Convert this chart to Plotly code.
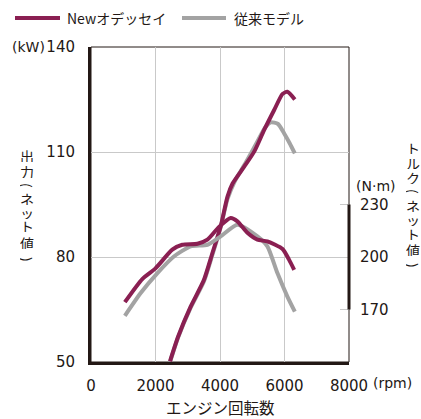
import plotly.graph_objects as go

# ---- data ----
new_power_rpm = [2450, 2700, 3090, 3500, 3760, 4020, 4230, 4390, 4750, 5060, 5370, 5680, 5940, 6090, 6320]
new_power_kw = [50.2, 57.2, 65.8, 73.4, 81, 88.7, 97.2, 101, 105.8, 110.1, 116.3, 122, 126.6, 127.2, 125]

old_power_rpm = [2450, 2700, 3090, 3500, 3760, 4020, 4230, 4450, 4800, 5160, 5400, 5575, 5800, 5990, 6160, 6320]
old_power_kw = [50, 57, 65.5, 73, 80.5, 88.5, 96.5, 101.5, 107, 113, 117, 118.5, 118, 115.3, 112.5, 109.6]

new_torque_rpm = [1050, 1590, 2000, 2520, 2830, 3300, 3610, 3970, 4330, 4540, 4850, 5160, 5470, 5940, 6140, 6300]
new_torque_nm = [174.2, 187.4, 193.5, 204.2, 207, 207.6, 209.9, 217.2, 222.3, 220.4, 213.8, 209.9, 208.9, 204.6, 198.5, 192.7]

old_torque_rpm = [1050, 1540, 2060, 2570, 3090, 3610, 4020, 4540, 5160, 5470, 5780, 6090, 6320]
old_torque_nm = [166.4, 179.4, 190.8, 200.3, 206.1, 207, 211.8, 218.5, 211.8, 206.1, 190.8, 177.4, 168.8]

x_ticks = [0, 2000, 4000, 6000, 8000]
x_ticklabels = ["0", "2000", "4000", "6000", "8000"]
power_ticks = [50, 80, 110, 140]
torque_ticks = [170, 200, 230]

series_names = ["Newオデッセイ", "従来モデル"]
left_title = ["出", "力", "(", "ネ", "ッ", "ト", "値", ")"]
right_title = ["ト", "ル", "ク", "(", "ネ", "ッ", "ト", "値", ")"]

MAROON = "#8a1f52"
GRAY = "#a3a3a3"
INK = "#231815"
GRID = "#c9c9c9"
JP = "Noto Sans CJK JP"
NUM = "DejaVu Sans, Noto Sans CJK JP"

W, H = 421, 419
L, R, T, B = 91, 72, 47, 57
PW, PH = W - L - R, H - T - B


def px(xp):
    return (xp - L) / PW


def py(yp):
    return (H - B - yp) / PH


fig = go.Figure()
line_shape = dict(shape="spline", smoothing=0.6)

fig.add_trace(go.Scatter(x=old_torque_rpm, y=old_torque_nm, yaxis="y2", mode="lines",
                         line=dict(color=GRAY, width=4, **line_shape), name=series_names[1], showlegend=False))
fig.add_trace(go.Scatter(x=old_power_rpm, y=old_power_kw, mode="lines",
                         line=dict(color=GRAY, width=4, **line_shape), name=series_names[1], showlegend=False))
fig.add_trace(go.Scatter(x=new_torque_rpm, y=new_torque_nm, yaxis="y2", mode="lines",
                         line=dict(color=MAROON, width=4, **line_shape), name=series_names[0], showlegend=False))
fig.add_trace(go.Scatter(x=new_power_rpm, y=new_power_kw, mode="lines",
                         line=dict(color=MAROON, width=4, **line_shape), name=series_names[0], showlegend=False))

shapes = [
    dict(type="rect", xref="paper", yref="paper", x0=0, x1=1, y0=0, y1=1,
         line=dict(color=INK, width=1), layer="below"),
    dict(type="line", xref="paper", yref="y2", x0=1, x1=1, y0=170, y1=230,
         line=dict(color=INK, width=3)),
    dict(type="line", xref="paper", yref="paper", x0=px(15), x1=px(60), y0=py(18), y1=py(18),
         line=dict(color=MAROON, width=4)),
    dict(type="line", xref="paper", yref="paper", x0=px(182), x1=px(226), y0=py(18), y1=py(18),
         line=dict(color=GRAY, width=4)),
]

annotations = [
    dict(text=series_names[0], x=px(65), y=py(18), xanchor="left", yanchor="middle", font=dict(family=JP, size=14)),
    dict(text=series_names[1], x=px(232), y=py(18), xanchor="left", yanchor="middle", font=dict(family=JP, size=14)),
    dict(text="(kW)", x=px(47), y=py(47), xanchor="right", yanchor="middle", font=dict(family=NUM, size=14)),
    dict(text="(N·m)", x=px(375), y=py(186), xanchor="center", yanchor="middle", font=dict(family=NUM, size=14)),
    dict(text="(rpm)", x=px(371), y=py(383), xanchor="left", yanchor="middle", font=dict(family=NUM, size=14)),
    dict(text="エンジン回転数", x=px(220), y=py(407), xanchor="center", yanchor="middle", font=dict(family=JP, size=15.5)),
]

left_ys = [155, 171, 185, 198, 212, 225, 242, 259]
for ch, yy in zip(left_title, left_ys):
    rot = 90 if ch in "()" else 0
    annotations.append(dict(text=ch, x=px(27), y=py(yy), xanchor="center", yanchor="middle",
                            textangle=rot, height=13, borderpad=0,
                            font=dict(family=JP, size=14)))

right_ys = [147, 162, 177, 191, 205, 219, 233, 250, 265]
for ch, yy in zip(right_title, right_ys):
    rot = 90 if ch in "()" else 0
    annotations.append(dict(text=ch, x=px(413), y=py(yy), xanchor="center", yanchor="middle",
                            textangle=rot, height=13, borderpad=0,
                            font=dict(family=JP, size=14)))

for a in annotations:
    a.update(xref="paper", yref="paper", showarrow=False)
    a["font"]["color"] = INK

fig.update_layout(
    width=W, height=H,
    margin=dict(l=L, r=R, t=T, b=B),
    paper_bgcolor="white", plot_bgcolor="white",
    font=dict(family=NUM, size=15, color=INK),
    showlegend=False,
    shapes=shapes,
    annotations=annotations,
    xaxis=dict(range=[0, 8000], tickvals=x_ticks, ticktext=x_ticklabels,
               showgrid=True, gridcolor=GRID, gridwidth=1,
               showline=True, linecolor=INK, linewidth=3, zeroline=False,
               ticks="", ticklabelstandoff=8, fixedrange=True),
    yaxis=dict(range=[50, 140], tickvals=power_ticks,
               showgrid=True, gridcolor=GRID, gridwidth=1,
               showline=True, linecolor=INK, linewidth=3, zeroline=False,
               ticks="", ticklabelstandoff=10, fixedrange=True),
    yaxis2=dict(range=[140, 320], tickvals=torque_ticks, overlaying="y", side="right",
                showgrid=False, showline=False, zeroline=False,
                ticks="inside", ticklen=9, tickcolor=GRID, tickwidth=1,
                ticklabelstandoff=10, fixedrange=True),
)

fig.write_html("out.html", config={"displayModeBar": False},
               post_script="document.body.style.margin='0';document.body.style.padding='0';")
